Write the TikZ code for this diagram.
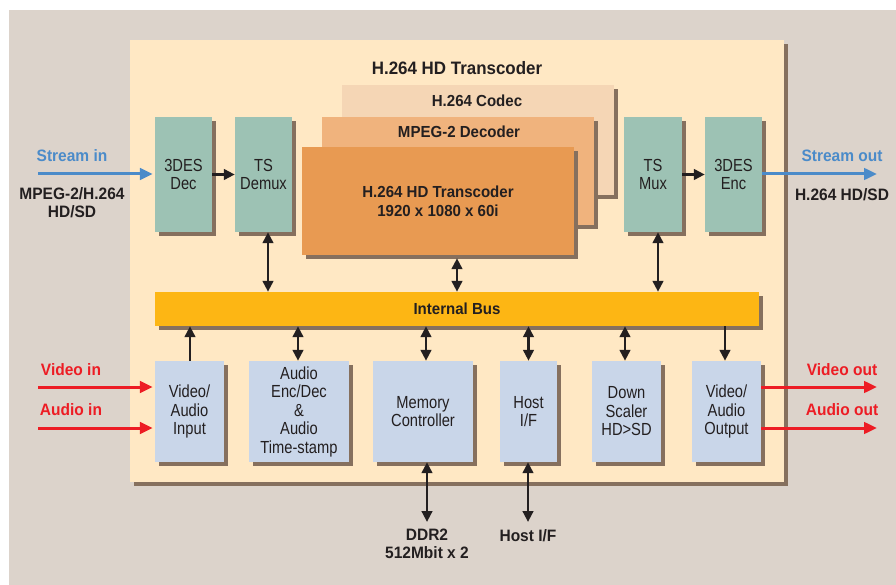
\documentclass[tikz,border=0pt]{standalone}
\usepackage{fontspec}
\setmainfont{Liberation Sans}[FakeStretch=0.84]
\newfontfamily\lblfont{Liberation Sans}[FakeStretch=0.94]
\usetikzlibrary{arrows.meta,shadows}
\definecolor{bgc}{HTML}{DCD3CB}
\definecolor{cream}{HTML}{FFE8C4}
\definecolor{tealc}{HTML}{9DC2B4}
\definecolor{bluebox}{HTML}{C9D6E9}
\definecolor{orgmain}{HTML}{E89A52}
\definecolor{orgmid}{HTML}{F0B37D}
\definecolor{orglight}{HTML}{F5D6B5}
\definecolor{busc}{HTML}{FDB614}
\definecolor{shadowc}{HTML}{86705E}
\definecolor{bluetxt}{HTML}{4B8BC9}
\definecolor{redc}{HTML}{ED1C24}
\definecolor{ink}{HTML}{231F20}
\begin{document}
\begin{tikzpicture}[x=1pt,y=-1pt,
  shd/.style={drop shadow={shadow xshift=4pt,shadow yshift=-4pt,fill=shadowc,opacity=1}},
  blk/.style={shd,inner sep=0pt,align=center,text=ink,font=\fontsize{17.5}{18.5}\selectfont},
  tealbox/.style={blk,fill=tealc},
  bluebx/.style={blk,fill=bluebox},
  lbl/.style={text=ink,font=\lblfont\bfseries\fontsize{16.5}{18}\selectfont,align=center,inner sep=0pt},
  arr/.style={ink,line width=2.8pt,-{Triangle[length=11pt,width=10.5pt]}},
  darr/.style={ink,line width=2.8pt,{Triangle[length=11pt,width=10.5pt]}-{Triangle[length=11pt,width=10.5pt]}},
  inarr/.style={line width=3pt,-{Triangle[length=13pt,width=11.5pt]}}]
\useasboundingbox (0,0) rectangle (896,585);
\fill[bgc] (9,10) rectangle (896,585);
% main frame
\node[shd,fill=cream,inner sep=0pt,minimum width=654pt,minimum height=442pt] (frame) at (457,261) {};
\node[lbl,font=\lblfont\bfseries\fontsize{18}{20}\selectfont] (title) at (457,68) {H.264 HD Transcoder};
% codec stack
\node[shd,fill=orglight,inner sep=0pt,minimum width=272pt,minimum height=110pt] (codec) at (478,140) {};
\node[lbl,font=\lblfont\bfseries\fontsize{16}{18}\selectfont] (codect) at (477,101) {H.264 Codec};
\node[shd,fill=orgmid,inner sep=0pt,minimum width=272pt,minimum height=108pt] (mpeg) at (458,171) {};
\node[lbl,font=\lblfont\bfseries\fontsize{16}{18}\selectfont] (mpegt) at (459,132) {MPEG-2 Decoder};
\node[shd,fill=orgmain,lbl,font=\lblfont\bfseries\fontsize{16}{19}\selectfont,minimum width=272pt,minimum height=108pt] (trans) at (438,201) {H.264 HD Transcoder\\1920 x 1080 x 60i};
% top boxes
\node[tealbox,minimum width=57pt,minimum height=115pt] (dec) at (183.5,174.5) {3DES\\Dec};
\node[tealbox,minimum width=57pt,minimum height=115pt] (demux) at (263.5,174.5) {TS\\Demux};
\node[tealbox,minimum width=58pt,minimum height=115pt] (mux) at (653,174.5) {TS\\Mux};
\node[tealbox,minimum width=57pt,minimum height=115pt] (enc) at (733.5,174.5) {3DES\\Enc};
% bus
\node[shd,fill=busc,lbl,font=\lblfont\bfseries\fontsize{16}{18}\selectfont,minimum width=604pt,minimum height=34pt] (bus) at (457,309) {Internal Bus};
% bottom boxes
\node[bluebx,minimum width=69pt,minimum height=101pt] (vain) at (189.5,411.5) {Video/\\Audio\\Input};
\node[bluebx,minimum width=100pt,minimum height=101pt] (aud) at (299,411.5) {Audio\\Enc/Dec\\\&\\Audio\\Time-stamp};
\node[bluebx,minimum width=100pt,minimum height=101pt] (mem) at (423,411.5) {Memory\\Controller};
\node[bluebx,minimum width=57pt,minimum height=101pt] (host) at (528.5,411.5) {Host\\I/F};
\node[bluebx,minimum width=69pt,minimum height=101pt] (down) at (626.5,411.5) {Down\\Scaler\\HD>SD};
\node[bluebx,minimum width=69pt,minimum height=101pt] (vaout) at (726.5,411.5) {Video/\\Audio\\Output};
% side labels
\node[lbl,text=bluetxt] (sinl) at (72,156) {Stream in};
\node[lbl] (sinf) at (72,203) {MPEG-2/H.264\\HD/SD};
\node[lbl,text=bluetxt] (soutl) at (842,156) {Stream out};
\node[lbl] (soutf) at (842,195) {H.264 HD/SD};
\node[lbl,text=redc] (vinl) at (71,370) {Video in};
\node[lbl,text=redc] (ainl) at (71,410) {Audio in};
\node[lbl,text=redc] (voutl) at (842,370) {Video out};
\node[lbl,text=redc] (aoutl) at (842,410) {Audio out};
% coordinates
\coordinate (sin) at (38,174);
\coordinate (sout) at (877,174);
\coordinate (vin) at (38,387);
\coordinate (ain) at (38,428);
\coordinate (vout) at (877,387);
\coordinate (aout) at (877,428);
\coordinate (ddrend) at (427,522);
\coordinate (hostend) at (528,522);
\node[lbl,anchor=north] (ddrl) at (427,529) {DDR2\\512Mbit x 2};
\node[lbl,anchor=north] (hostl) at (528,529) {Host I/F};
% stream arrows
\draw[inarr,bluetxt] (sin) -- ([xshift=-2pt]dec.west |- sin);
\draw[inarr,bluetxt] (enc.east |- sout) -- (sout);
\draw[arr] (dec.east) -- (demux.west);
\draw[arr] (mux.east) -- (enc.west);
\draw[inarr,redc] (vin) -- ([xshift=-2pt]vain.west |- vin);
\draw[inarr,redc] (ain) -- ([xshift=-2pt]vain.west |- ain);
\draw[inarr,redc] (vaout.east |- vout) -- (vout);
\draw[inarr,redc] (vaout.east |- aout) -- (aout);
% bus connectors top
\draw[darr] ([xshift=4.5pt]demux.south) -- ([xshift=4.5pt]demux.south |- bus.north);
\draw[darr] ([xshift=19pt,yshift=-3pt]trans.south) -- ([xshift=19pt]trans.south |- bus.north);
\draw[darr] ([xshift=5pt]mux.south) -- ([xshift=5pt]mux.south |- bus.north);
% bus connectors bottom
\draw[arr] ([xshift=0.5pt]vain.north) -- ([xshift=0.5pt]vain.north |- bus.south);
\draw[darr] ([xshift=-1pt]aud.north) -- ([xshift=-1pt]aud.north |- bus.south);
\draw[darr] ([xshift=3pt]mem.north) -- ([xshift=3pt]mem.north |- bus.south);
\draw[darr] (host.north) -- (host.north |- bus.south);
\draw[darr] ([xshift=-1.5pt]down.north) -- ([xshift=-1.5pt]down.north |- bus.south);
\draw[arr] ([xshift=-1.5pt]vaout.north |- bus.south) -- ([xshift=-1.5pt]vaout.north);
% external
\draw[darr] (mem.south -| ddrend) -- (ddrend);
\draw[darr] (host.south -| hostend) -- (hostend);
\end{tikzpicture}
\end{document}
